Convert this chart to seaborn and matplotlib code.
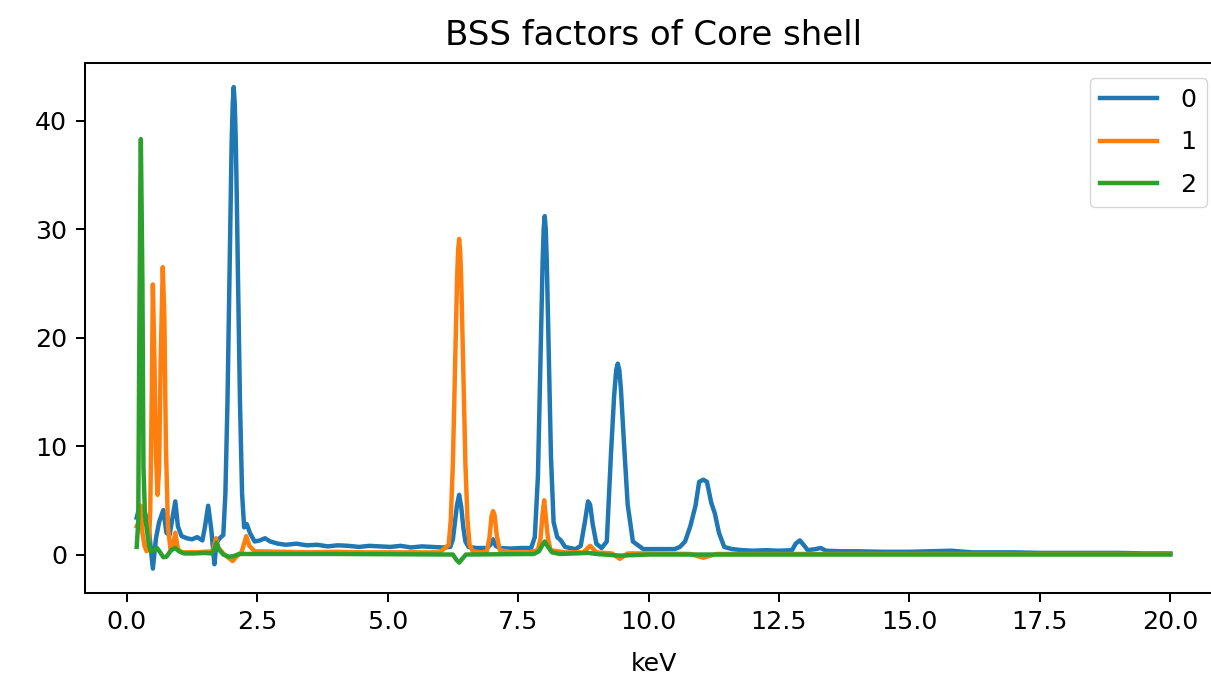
import matplotlib
matplotlib.use("Agg")
import matplotlib.pyplot as plt
import seaborn as sns
import pandas as pd

# ---- spectra of the three BSS factors (energy in keV, factor intensity) ----
factor_labels = ["0", "1", "2"]

kev_0 = [0.19, 0.25, 0.30, 0.35, 0.42, 0.50, 0.56, 0.62, 0.70, 0.76, 0.82, 0.88,
         0.93, 0.98, 1.05, 1.15, 1.25, 1.35, 1.45, 1.50, 1.56, 1.62, 1.68, 1.72,
         1.78, 1.85, 1.89, 1.93, 1.97, 1.99, 2.01, 2.03, 2.05, 2.07, 2.09, 2.11,
         2.13, 2.17, 2.21, 2.25,
         2.30, 2.36, 2.45, 2.55, 2.65, 2.75, 2.90, 3.05, 3.25, 3.45, 3.65, 3.85,
         4.05, 4.25, 4.45, 4.65, 4.85, 5.05, 5.25, 5.45, 5.65, 5.85, 6.05, 6.20,
         6.25, 6.29, 6.33, 6.37, 6.41, 6.45, 6.49, 6.55, 6.70, 6.90, 6.97, 7.02,
         7.07, 7.15, 7.35, 7.55, 7.75, 7.82, 7.88, 7.93, 7.97, 7.99, 8.01, 8.03,
         8.05, 8.09, 8.13, 8.18, 8.25, 8.32, 8.40, 8.50, 8.60, 8.70, 8.78, 8.84,
         8.88, 8.93, 9.00, 9.10, 9.20, 9.28, 9.34, 9.38, 9.41, 9.44, 9.47, 9.53,
         9.60, 9.70, 9.90, 10.20, 10.50, 10.60, 10.70, 10.80, 10.90, 10.97, 11.05,
         11.12, 11.20, 11.27, 11.35, 11.45, 11.60, 11.80, 12.00, 12.25, 12.50,
         12.75, 12.82, 12.90, 12.97, 13.05, 13.20, 13.30, 13.40, 13.70, 14.00,
         14.50, 15.00, 15.40, 15.80, 16.20, 16.50, 17.00, 17.50, 18.00, 18.50,
         19.00, 19.50, 20.00]
int_0 = [3.4, 4.5, 4.2, 3.8, 2.5, -1.3, 1.5, 3.0, 4.1, 2.0, 1.8, 3.5,
         4.9, 2.6, 1.7, 1.5, 1.4, 1.6, 1.3, 2.6, 4.5, 2.3, -0.9, 1.1,
         1.5, 1.8, 5.6, 14.0, 26.0, 32.5, 38.0, 41.5, 43.1, 41.5, 38.0, 32.5,
         26.0, 14.0, 5.6, 2.5,
         2.8, 2.0, 1.2, 1.3, 1.5, 1.2, 1.0, 0.9, 1.0, 0.85, 0.9, 0.75,
         0.85, 0.8, 0.7, 0.8, 0.75, 0.7, 0.8, 0.65, 0.75, 0.7, 0.65, 0.7,
         1.4, 3.0, 4.6, 5.5, 4.4, 2.5, 1.2, 0.7, 0.6, 0.6, 0.9, 1.4,
         0.8, 0.6, 0.55, 0.6, 0.6, 1.6, 7.2, 18.0, 27.0, 30.0, 31.2, 30.0,
         27.0, 18.0, 9.0, 3.0, 1.6, 1.3, 0.7, 0.6, 0.5, 0.8, 3.0, 4.9,
         4.6, 2.8, 1.0, 0.6, 1.2, 9.3, 14.6, 17.0, 17.6, 17.0, 15.3, 10.2,
         4.6, 1.2, 0.5, 0.5, 0.5, 0.7, 1.2, 2.6, 4.5, 6.7, 6.9,
         6.7, 4.8, 3.8, 2.0, 0.7, 0.5, 0.4, 0.35, 0.4, 0.35,
         0.4, 1.0, 1.3, 0.9, 0.4, 0.5, 0.6, 0.35, 0.3, 0.3,
         0.25, 0.25, 0.3, 0.35, 0.2, 0.2, 0.2, 0.15, 0.15, 0.15,
         0.15, 0.1, 0.1]

kev_1 = [0.19, 0.23, 0.27, 0.30, 0.34, 0.38, 0.42, 0.45, 0.48, 0.50, 0.53, 0.56,
         0.59, 0.62, 0.65, 0.69, 0.72, 0.75, 0.79, 0.84, 0.88, 0.93, 0.98, 1.05,
         1.30, 1.50, 1.65, 1.71, 1.76, 1.85, 1.95, 2.03, 2.10, 2.20, 2.29, 2.35,
         2.45, 3.00, 3.50, 4.00, 4.50, 5.00, 5.50, 6.00, 6.17, 6.21, 6.25, 6.29,
         6.33, 6.35, 6.37, 6.39, 6.41, 6.45, 6.49, 6.53, 6.57, 6.63, 6.80, 6.90,
         6.95, 6.99, 7.02, 7.05, 7.09, 7.15, 7.40, 7.70, 7.88, 7.93, 7.97, 8.00,
         8.03, 8.07, 8.12, 8.40, 8.75, 8.88, 9.00, 9.30, 9.45, 9.60, 10.00, 10.80,
         11.05, 11.30, 12.00, 14.00, 16.00, 18.00, 20.00]
int_1 = [2.6, 3.0, 4.5, 2.0, 0.8, 0.3, 0.5, 4.0, 15.0, 24.9, 18.0, 9.0,
         5.5, 8.0, 18.0, 26.5, 22.0, 10.0, 2.5, 0.4, 0.6, 2.0, 0.5, 0.2,
         0.2, 0.25, 0.3, 1.5, 0.6, 0.1, -0.3, -0.6, -0.2, 0.2, 1.7, 0.8,
         0.3, 0.25, 0.2, 0.25, 0.2, 0.2, 0.2, 0.2, 0.9, 3.2, 8.4, 16.9,
         25.3, 28.0, 29.1, 28.0, 25.3, 16.9, 8.4, 3.2, 0.9, 0.3, 0.2, 0.3,
         1.5, 3.5, 4.0, 3.6, 1.8, 0.4, 0.2, 0.2, 0.4, 1.5, 3.8, 5.0,
         3.5, 1.6, 0.4, 0.2, 0.2, 0.8, 0.2, 0.1, -0.4, 0.1, 0.1, 0.05,
         -0.3, 0.05, 0.05, 0.05, 0.05, 0.05, 0.05]

kev_2 = [0.19, 0.22, 0.24, 0.26, 0.27, 0.28, 0.30, 0.32, 0.35, 0.38, 0.42, 0.46,
         0.52, 0.58, 0.64, 0.70, 0.76, 0.85, 0.93, 1.00, 1.10, 1.30, 1.50, 1.62,
         1.68, 1.72, 1.76, 1.85, 1.95, 2.05, 2.15, 2.50, 4.00, 6.25, 6.32, 6.37,
         6.43, 6.50, 7.80, 7.90, 7.97, 8.01, 8.06, 8.15, 8.30, 8.85, 9.00, 9.45,
         10.00, 20.00]
int_2 = [0.7, 3.0, 20.0, 34.0, 38.3, 34.0, 25.0, 8.0, 3.5, 2.5, 1.0, 0.3,
         0.4, 0.6, 0.2, -0.25, -0.2, 0.4, 0.6, 0.3, 0.1, 0.1, 0.15, 0.1,
         0.5, 1.1, 0.5, 0.0, -0.2, -0.15, 0.05, 0.05, 0.05, 0.0, -0.5, -0.75,
         -0.4, 0.0, 0.05, 0.3, 0.9, 1.2, 0.8, 0.2, 0.05, 0.15, 0.05, -0.1,
         0.0, 0.0]

frames = []
for lab, xs, ys in zip(factor_labels, [kev_0, kev_1, kev_2], [int_0, int_1, int_2]):
    frames.append(pd.DataFrame({"keV": xs, "intensity": ys, "factor": lab}))
data = pd.concat(frames, ignore_index=True)

s = 1.82
plt.rcParams.update({
    "font.family": ["DejaVu Sans"],
    "font.size": 10 * s,
    "axes.linewidth": 0.8 * s,
    "xtick.major.size": 3.5 * s,
    "ytick.major.size": 3.5 * s,
    "xtick.major.width": 0.8 * s,
    "ytick.major.width": 0.8 * s,
    "xtick.major.pad": 3.5 * s,
    "ytick.major.pad": 3.5 * s,
    "xtick.labelsize": 10 * s,
    "ytick.labelsize": 10 * s,
    "axes.titlesize": 24.5,
    "axes.titlepad": 13,
    "axes.labelsize": 10 * s,
    "axes.labelpad": 13,
    "legend.fontsize": 10 * s,
})

fig = plt.figure(figsize=(12.11, 6.78), dpi=100)
ax = fig.add_axes([85 / 1211, 1 - 592.7 / 678, 1137 / 1211, (592.7 - 63) / 678])

palette = sns.color_palette("tab10", 3)
sns.lineplot(data=data, x="keV", y="intensity", hue="factor", palette=palette,
             linewidth=3.2, ax=ax, estimator=None, sort=False)

ax.set_title("BSS factors of Core shell")
ax.set_xlabel("keV")
ax.set_ylabel("")
ax.set_xticks([0, 2.5, 5, 7.5, 10, 12.5, 15, 17.5, 20])
ax.set_yticks([0, 10, 20, 30, 40])

leg = ax.legend(loc="upper right", borderaxespad=0.6, handlelength=2.25,
                handletextpad=0.95, labelspacing=0.72)
for line in leg.get_lines():
    line.set_linewidth(3.2)

fig.savefig("out.png", dpi=100)
